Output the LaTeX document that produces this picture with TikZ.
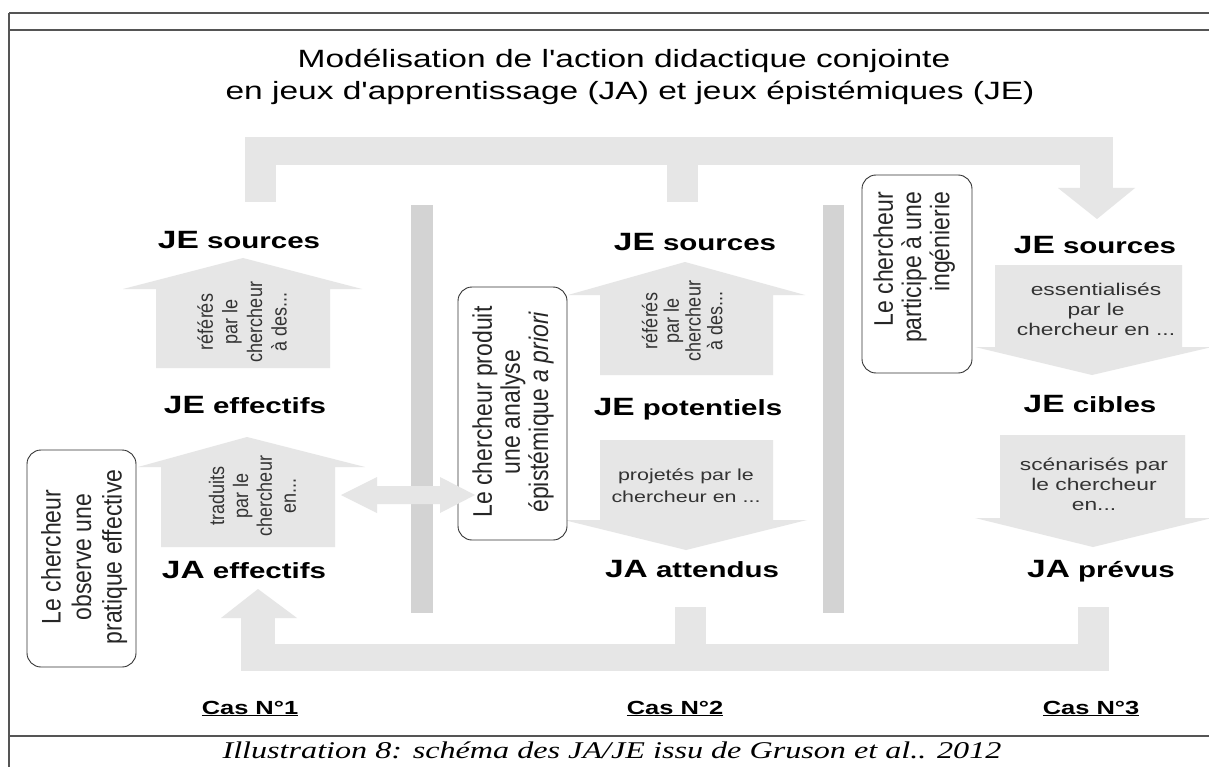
\documentclass[tikz,border=0pt]{standalone}
\usepackage{fontspec}
\setmainfont{Liberation Sans}
\newfontfamily\capfont{Liberation Serif}
\usepackage{graphicx}
\definecolor{arrowgray}{HTML}{E6E6E6}
\definecolor{bargray}{HTML}{D3D3D3}
\definecolor{framegray}{HTML}{555555}
\definecolor{txtgray}{HTML}{333333}
\definecolor{boxline}{HTML}{333333}
\newcommand\hs[1]{\scalebox{1.34}[1]{#1}}
\newcommand\vs[1]{\scalebox{1}[1.17]{#1}}
\newcommand\stk[2]{\begin{tabular}{@{}#1@{}}#2\end{tabular}}
\newcommand\jlab[2]{\hs{\fontsize{25}{30}\selectfont\bfseries #1\fontsize{22}{30}\selectfont\ #2}}
\begin{document}
\begin{tikzpicture}[x=1pt,y=-1pt,
  frame/.style={draw=framegray, line width=1.8pt},
  box/.style={draw=boxline, line width=0.9pt, rounded corners=14pt, fill=white, inner sep=0pt},
  btxt/.style={inner sep=0pt, text=black!85, rotate=90},
  lab/.style={anchor=base, inner sep=0pt, text=black},
  atxt/.style={inner sep=0pt, text=txtgray},
  cas/.style={anchor=base, inner sep=0pt, text=black}]
\useasboundingbox (0,0) rectangle (1209,767);
\fill[white] (0,0) rectangle (1209,767);
% frame
\draw[frame] (9,13) -- (1209,13);
\draw[frame] (9,30) -- (1209,30);
\draw[frame] (9,736) -- (1209,736);
\draw[frame] (9,13) -- (9,767);
% title
\node[anchor=base, inner sep=0pt] (title1) at (624,68) {\hs{\fontsize{25}{30}\selectfont Modélisation de l\textquotesingle action didactique conjointe}};
\node[anchor=base, inner sep=0pt] (title2) at (630,100) {\hs{\fontsize{25}{30}\selectfont en jeux d\textquotesingle apprentissage (JA) et jeux épistémiques (JE)}};
% top connector
\fill[arrowgray] (245,137) rectangle (1113,165);
\fill[arrowgray] (245,165) rectangle (276,202);
\fill[arrowgray] (667,165) rectangle (698,202);
\fill[arrowgray] (1080,165) rectangle (1113,188);
\fill[arrowgray] (1058,188) -- (1135,188) -- (1097,219) -- cycle;
% bottom connector
\fill[arrowgray] (241,644) rectangle (1109,671);
\fill[arrowgray] (241,618) rectangle (275,644);
\fill[arrowgray] (221,618) -- (297,618) -- (258,589) -- cycle;
\fill[arrowgray] (675,607) rectangle (706,644);
\fill[arrowgray] (1078,607) rectangle (1109,644);
% separators
\fill[bargray] (411,205) rectangle (433,613);
\fill[bargray] (823,205) rectangle (844,613);
% block arrows
\fill[arrowgray] (156,368) -- (156,289) -- (123,289) -- (243,258) -- (362,289) -- (330,289) -- (330,368) -- cycle;
\fill[arrowgray] (161,547) -- (161,467) -- (138,467) -- (247,437) -- (365,467) -- (335,467) -- (335,547) -- cycle;
\fill[arrowgray] (600,375) -- (600,295) -- (568,295) -- (685,262) -- (805,295) -- (773,295) -- (773,375) -- cycle;
\fill[arrowgray] (600,440) -- (773,440) -- (773,520) -- (807,520) -- (686,550) -- (564,520) -- (600,520) -- cycle;
\fill[arrowgray] (995,265) -- (1182,265) -- (1182,347) -- (1212,347) -- (1092,375) -- (975,347) -- (995,347) -- cycle;
\fill[arrowgray] (1000,435) -- (1185,435) -- (1185,518) -- (1212,518) -- (1093,547) -- (975,518) -- (1000,518) -- cycle;
% boxes
\node[box, rotate=90, minimum width=217pt, minimum height=109pt] (b1) at (81.5,558.5) {};
\node[box, rotate=90, minimum width=253pt, minimum height=109pt] (b2) at (512.5,413.5) {};
\node[box, rotate=90, minimum width=198pt, minimum height=110pt] (b3) at (917,274) {};
\node[btxt] (b1t) at (85,557) {\vs{\fontsize{23}{26}\selectfont\stk{c}{Le chercheur\\observe une\\pratique effective}}};
\node[btxt] (b2t) at (514.4,412) {\vs{\fontsize{23}{24}\selectfont\stk{c}{Le chercheur produit\\une analyse\\épistémique \textit{a priori}}}};
\node[btxt] (b3t) at (915.4,267.5) {\vs{\fontsize{23}{24}\selectfont\stk{r}{Le chercheur\\participe à une\\ingénierie}}};
% double arrow
\fill[arrowgray] (341,495) -- (377,477) -- (377,486) -- (440,486) -- (440,477) -- (475,495) -- (440,513) -- (440,504) -- (377,504) -- (377,513) -- cycle;
% arrow texts
\node[atxt, rotate=90] (t1) at (244.8,322) {\vs{\fontsize{18}{21}\selectfont\stk{c}{référés\\par le\\chercheur\\à des...}}};
\node[atxt, rotate=90] (t2) at (255.2,496) {\vs{\fontsize{18}{20.5}\selectfont\stk{c}{traduits\\par le\\chercheur\\en...}}};
\node[atxt, rotate=90] (t3) at (685.3,321) {\vs{\fontsize{18}{18}\selectfont\stk{c}{référés\\par le\\chercheur\\à des...}}};
\node[atxt] (t4) at (686,486.6) {\hs{\fontsize{16}{22}\selectfont\stk{c}{projetés par le\\chercheur en ...}}};
\node[atxt] (t5) at (1096,311) {\hs{\fontsize{17}{20}\selectfont\stk{c}{essentialisés\\par le\\chercheur en ...}}};
\node[atxt] (t6) at (1094,486) {\hs{\fontsize{17}{20}\selectfont\stk{c}{scénarisés par\\le chercheur\\en...}}};
% labels
\node[lab] (je1) at (239,248) {\jlab{JE}{sources}};
\node[lab] (jeeff) at (245,413) {\jlab{JE}{effectifs}};
\node[lab] (jaeff) at (244,578) {\jlab{JA}{effectifs}};
\node[lab] (je2) at (695,251) {\jlab{JE}{sources}};
\node[lab] (jepot) at (688,415) {\jlab{JE}{potentiels}};
\node[lab] (jaatt) at (692,577) {\jlab{JA}{attendus}};
\node[lab] (je3) at (1095,254) {\jlab{JE}{sources}};
\node[lab] (jecib) at (1090,412) {\jlab{JE}{cibles}};
\node[lab] (japre) at (1101,577) {\jlab{JA}{prévus}};
% cases
\node[cas] (c1) at (250,714) {\hs{\fontsize{19}{22}\selectfont\bfseries\underline{Cas N°1}}};
\node[cas] (c2) at (675,714) {\hs{\fontsize{19}{22}\selectfont\bfseries\underline{Cas N°2}}};
\node[cas] (c3) at (1091,714) {\hs{\fontsize{19}{22}\selectfont\bfseries\underline{Cas N°3}}};
% caption
\node[anchor=base, inner sep=0pt] (cap) at (612,758) {\hs{\fontsize{24}{28}\selectfont\capfont\itshape Illustration 8: schéma des JA/JE issu de Gruson et al.. 2012}};
\end{tikzpicture}
\end{document}
